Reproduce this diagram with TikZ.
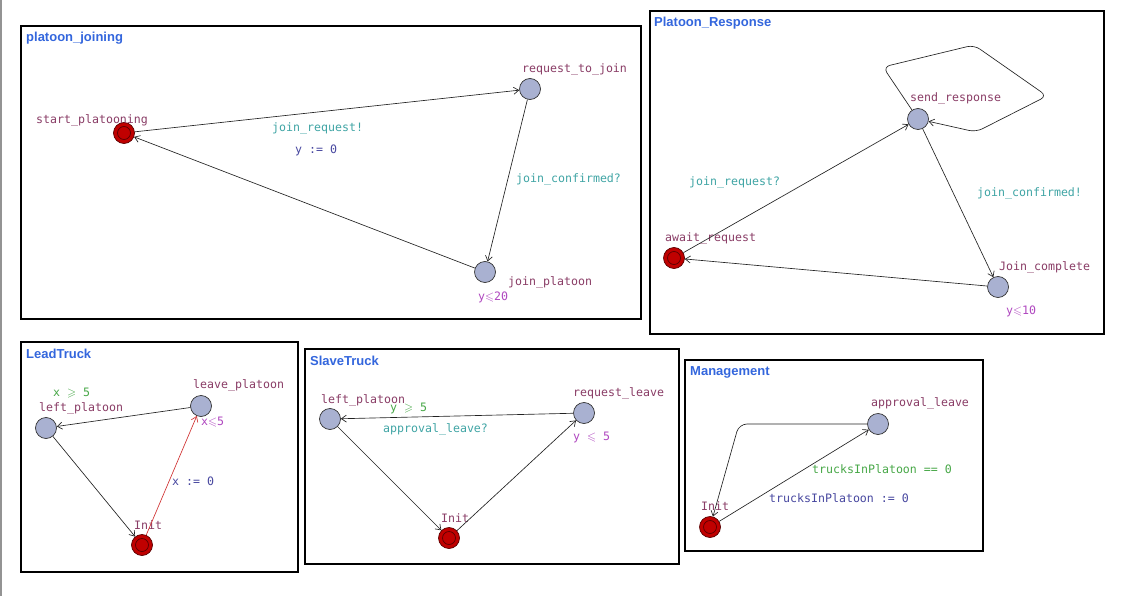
\documentclass[tikz,border=0pt]{standalone}
\usepackage{fontspec}
\usepackage{amssymb}
\setmainfont{DejaVu Sans}
\newfontfamily\monof{DejaVu Sans Mono}
\newfontfamily\titlef{Liberation Sans}
\usetikzlibrary{arrows.meta}
\definecolor{locfill}{HTML}{A9B1D1}
\definecolor{locline}{HTML}{333333}
\definecolor{initfill}{HTML}{C00000}
\definecolor{initline}{HTML}{5A0000}
\definecolor{namecol}{HTML}{8A3D66}
\definecolor{synccol}{HTML}{40A5A5}
\definecolor{assigncol}{HTML}{4848A0}
\definecolor{guardcol}{HTML}{48A848}
\definecolor{invcol}{HTML}{B048C0}
\definecolor{titlecol}{HTML}{3366DD}
\definecolor{edgecol}{HTML}{222222}
\definecolor{rededge}{HTML}{D03030}
\tikzset{
 loc/.style={circle, draw=locline, fill=locfill, line width=0.7pt, minimum size=21pt, inner sep=0pt},
 initloc/.style={circle, draw=initline, fill=initfill, line width=0.7pt, minimum size=21pt, inner sep=0pt,
   path picture={\draw[initline, line width=0.7pt] (path picture bounding box.center) circle (6.5pt);}},
 lbl/.style={anchor=west, inner sep=0pt, font=\monof\fontsize{11.6}{13}\selectfont},
 locname/.style={lbl, text=namecol},
 syncl/.style={lbl, text=synccol},
 assignl/.style={lbl, text=assigncol},
 guardl/.style={lbl, text=guardcol},
 invl/.style={lbl, text=invcol},
 ttl/.style={anchor=west, inner sep=0pt, font=\titlef\bfseries\fontsize{13}{15}\selectfont, text=titlecol},
 tbox/.style={draw=black, line width=1.1pt},
 edge/.style={draw=edgecol, line width=0.65pt, -{Straight Barb[length=5pt,width=7pt]}},
 redge/.style={edge, draw=rededge},
}
\begin{document}
\begin{tikzpicture}[x=1pt, y=-1pt]
\useasboundingbox (0,0) rectangle (1142,596);
\fill[white] (0,0) rectangle (1142,596);
\fill[gray!85] (0,0) rectangle (2,596);

% ---------- platoon_joining ----------
\draw[tbox] (21,26) rectangle (641,319);
\node[ttl] (t1) at (26,38) {platoon\_joining};
\node[initloc] (sp) at (124,133) {};
\node[loc] (rj) at (530,89) {};
\node[loc] (jp) at (485,272) {};
\node[locname] (sp-l) at (36,120) {start\_platooning};
\node[locname] (rj-l) at (522,69) {request\_to\_join};
\node[locname] (jp-l) at (508,282) {join\_platoon};
\node[invl] (jp-i) at (478,297) {y$\leqslant$20};
\draw[edge] (sp) -- (rj);
\draw[edge] (rj) -- (jp);
\draw[edge] (jp) -- (sp);
\node[syncl] (e1s) at (272,128) {join\_request!};
\node[assignl] (e1a) at (295,150) {y := 0};
\node[syncl] (e2s) at (516,179) {join\_confirmed?};

% ---------- Platoon_Response ----------
\draw[tbox] (650,11) rectangle (1104,334);
\node[ttl] (t2) at (654,23) {Platoon\_Response};
\node[loc] (sr) at (918,119) {};
\node[initloc] (ar) at (674,258) {};
\node[loc] (jc) at (998,287) {};
\node[locname] (sr-l) at (910,98) {send\_response};
\node[locname] (ar-l) at (665,238) {await\_request};
\node[locname] (jc-l) at (999,267) {Join\_complete};
\node[invl] (jc-i) at (1006,311) {y$\leqslant$10};
\draw[edge] (ar) -- (sr);
\draw[edge] (sr) -- (jc);
\draw[edge] (jc) -- (ar);
\coordinate (lp1) at (883,67);
\coordinate (lp2) at (974,45);
\coordinate (lp3) at (1047,96);
\coordinate (lp4) at (976,132);
\draw[edge, rounded corners=7pt] (sr) -- (lp1) -- (lp2) -- (lp3) -- (lp4) -- (sr);
\node[syncl] (e3s) at (689,182) {join\_request?};
\node[syncl] (e4s) at (977,193) {join\_confirmed!};

% ---------- LeadTruck ----------
\draw[tbox] (21,342) rectangle (298,572);
\node[ttl] (t3) at (26,354) {LeadTruck};
\node[loc] (lt-lp) at (46,428) {};
\node[loc] (lt-lv) at (201,406) {};
\node[initloc] (lt-in) at (142,545) {};
\node[locname] (lt-lp-l) at (39,408) {left\_platoon};
\node[locname] (lt-lv-l) at (193,385) {leave\_platoon};
\node[locname] (lt-in-l) at (134,525) {Init};
\node[invl] (lt-lv-i) at (201,422) {x$\leqslant$5};
\draw[edge] (lt-lv) -- (lt-lp);
\draw[edge] (lt-lp) -- (lt-in);
\draw[redge] (lt-in) -- (lt-lv);
\node[guardl] (e5g) at (53,393) {x $\geqslant$ 5};
\node[assignl] (e6a) at (172,481) {x := 0};

% ---------- SlaveTruck ----------
\draw[tbox] (305,349) rectangle (679,564);
\node[ttl] (t4) at (310,361) {SlaveTruck};
\node[loc] (st-lp) at (330,419) {};
\node[loc] (st-rl) at (584,413) {};
\node[initloc] (st-in) at (449,538) {};
\node[locname] (st-lp-l) at (321,400) {left\_platoon};
\node[locname] (st-rl-l) at (573,393) {request\_leave};
\node[locname] (st-in-l) at (441,518) {Init};
\node[invl] (st-rl-i) at (573,437) {y $\leqslant$ 5};
\draw[edge] (st-rl) -- (st-lp);
\draw[edge] (st-lp) -- (st-in);
\draw[edge] (st-in) -- (st-rl);
\node[guardl] (e7g) at (390,408) {y $\geqslant$ 5};
\node[syncl] (e7s) at (383,429) {approval\_leave?};

% ---------- Management ----------
\draw[tbox] (685,360) rectangle (983,551);
\node[ttl] (t5) at (690,372) {Management};
\node[loc] (mg-al) at (878,424) {};
\node[initloc] (mg-in) at (710,527) {};
\node[locname] (mg-al-l) at (871,403) {approval\_leave};
\node[locname] (mg-in-l) at (701,506) {Init};
\draw[edge] (mg-in) -- (mg-al);
\coordinate (mgc) at (739,424);
\draw[edge, rounded corners=8pt] (mg-al) -- (mgc) -- (mg-in);
\node[guardl] (e8g) at (812,469) {trucksInPlatoon == 0};
\node[assignl] (e8a) at (769,498) {trucksInPlatoon := 0};
\end{tikzpicture}
\end{document}
